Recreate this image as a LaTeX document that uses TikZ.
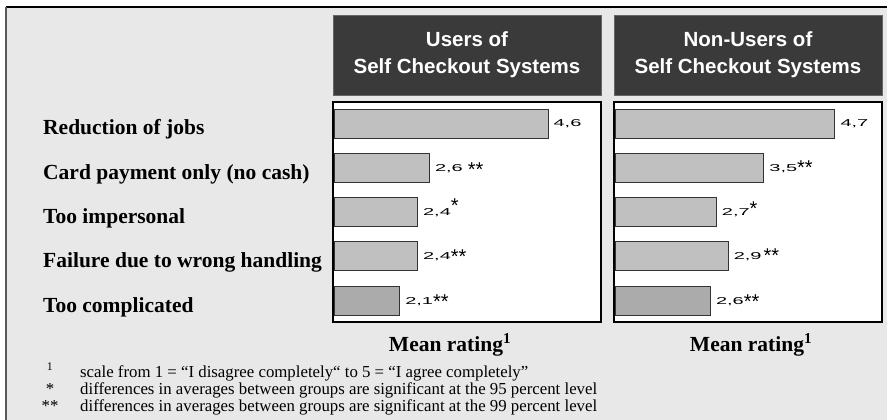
\documentclass[tikz,border=0pt]{standalone}
\usepackage{xcolor}
\usepackage{fontspec}
\setmainfont{Liberation Serif}
\setsansfont{Liberation Sans}
\newfontfamily\valfont[FakeStretch = 2.0]{Liberation Sans}
\usepackage{tikz}
\usetikzlibrary{positioning}
\definecolor{panelgrey}{HTML}{E8E8E8}
\definecolor{headgrey}{HTML}{3A3A3A}
\definecolor{bargrey}{HTML}{C0C0C0}
\definecolor{lastbargrey}{HTML}{ABABAB}
\newcommand{\sigmark}[2]{\raisebox{#1}{\fontsize{20}{20}\sffamily\selectfont #2}}
\tikzset{
head/.style = { rectangle, draw = black!60, fill = headgrey, text = white, minimum width = 268pt, minimum height = 80pt, align = center, font = \sffamily\bfseries\fontsize{20.5}{27}\selectfont },
panel/.style = { rectangle, draw = black, line width = 1.2pt, fill = white, minimum width = 268pt, minimum height = 220pt },
bar/.style = { rectangle, draw = black!80, line width = 0.9pt, fill = bargrey, minimum height = 29pt, anchor = west, inner sep = 0pt },
val/.style = { anchor = base west, inner sep = 0pt, font = \valfont\fontsize{10}{12}\selectfont },
item/.style = { anchor = base west, inner sep = 0pt, font = \bfseries\fontsize{21.5}{24}\selectfont },
mean/.style = { anchor = base, inner sep = 0pt, font = \bfseries\fontsize{21.5}{24}\selectfont },
note mark/.style = { anchor = base, inner sep = 0pt, font = \fontsize{16.8}{18}\selectfont },
note/.style = { anchor = base west, inner sep = 0pt, font = \fontsize{16.8}{18}\selectfont },
}

\begin{document}
\begin{tikzpicture}[x = 1pt, y = -1pt]
    \useasboundingbox (0, 0) rectangle (887, 420);
    \fill[panelgrey] (6, 7) rectangle (887, 420);
    \draw[black, line width = 1.3pt] (6, 7) -- (887, 7);
    \draw[black!65, line width = 2pt] (6, 7) -- (6, 420);
    % group headers
    \node[head] (uhead) at (467, 55) {Users of\\Self Checkout Systems};
    \node[head] (nhead) at (748, 55) {Non-Users of\\Self Checkout Systems};
    \node[panel] (upanel) at (467, 212) {};
    \node[panel] (npanel) at (748, 212) {};
    % statements
    \node[item] (s1) at (43, 135) {Reduction of jobs};
    \node[item] (s2) at (43, 179) {Card payment only (no cash)};
    \node[item] (s3) at (43, 223.5) {Too impersonal};
    \node[item] (s4) at (43, 267.5) {Failure due to wrong handling};
    \node[item] (s5) at (43, 312) {Too complicated};
    % users
    \node[bar, minimum width = 213.5pt] (ub1) at (334, 123.5) {};
    \node[bar, minimum width = 94.9pt] (ub2) at (334, 167.5) {};
    \node[bar, minimum width = 83pt] (ub3) at (334, 212) {};
    \node[bar, minimum width = 83pt] (ub4) at (334, 256) {};
    \node[bar, minimum width = 65.2pt, fill = lastbargrey] (ub5) at (334, 300.5) {};
    \node[val] (uv1) at ([xshift = 5pt, yshift = -3.5pt] ub1.east) {4,6};
    \node[val] (uv2) at ([xshift = 5pt, yshift = -3.5pt] ub2.east) {2,6\hspace{5pt}\sigmark{-5.6pt}{**}};
    \node[val] (uv3) at ([xshift = 5pt, yshift = -3.5pt] ub3.east) {2,4\sigmark{2.9pt}{*}};
    \node[val] (uv4) at ([xshift = 5pt, yshift = -3.5pt] ub4.east) {2,4\sigmark{-3.6pt}{**}};
    \node[val] (uv5) at ([xshift = 5pt, yshift = -3.5pt] ub5.east) {2,1\sigmark{-4.1pt}{**}};
    % non-users
    \node[bar, minimum width = 219.4pt] (nb1) at (615, 123.5) {};
    \node[bar, minimum width = 148.3pt] (nb2) at (615, 167.5) {};
    \node[bar, minimum width = 100.8pt] (nb3) at (615, 212) {};
    \node[bar, minimum width = 112.7pt] (nb4) at (615, 256) {};
    \node[bar, minimum width = 94.9pt, fill = lastbargrey] (nb5) at (615, 300.5) {};
    \node[val] (nv1) at ([xshift = 5pt, yshift = -3.5pt] nb1.east) {4,7};
    \node[val] (nv2) at ([xshift = 5pt, yshift = -3.5pt] nb2.east) {3,5\sigmark{-3.1pt}{**}};
    \node[val] (nv3) at ([xshift = 5pt, yshift = -3.5pt] nb3.east) {2,7\sigmark{0.4pt}{*}};
    \node[val] (nv4) at ([xshift = 5pt, yshift = -3.5pt] nb4.east) {2,9\hspace{2pt}\sigmark{-2.6pt}{**}};
    \node[val] (nv5) at ([xshift = 5pt, yshift = -3.5pt] nb5.east) {2,6\sigmark{-4.6pt}{**}};
    \node[mean] (umean) at (450, 351) {Mean rating\textsuperscript{1}};
    \node[mean] (nmean) at (751, 351) {Mean rating\textsuperscript{1}};
    % footnotes
    \node[note mark] (m1) at (50, 377) {\textsuperscript{1}};
    \node[note mark] (m2) at (50, 394) {*};
    \node[note mark] (m3) at (50, 411) {**};
    \node[note] (n1) at (80, 377) {scale from 1 = “I disagree completely“ to 5 = “I agree completely”};
    \node[note] (n2) at (80, 394) {differences in averages between groups are significant at the 95 percent level};
    \node[note] (n3) at (80, 411) {differences in averages between groups are significant at the 99 percent level};
\end{tikzpicture}
\end{document}
